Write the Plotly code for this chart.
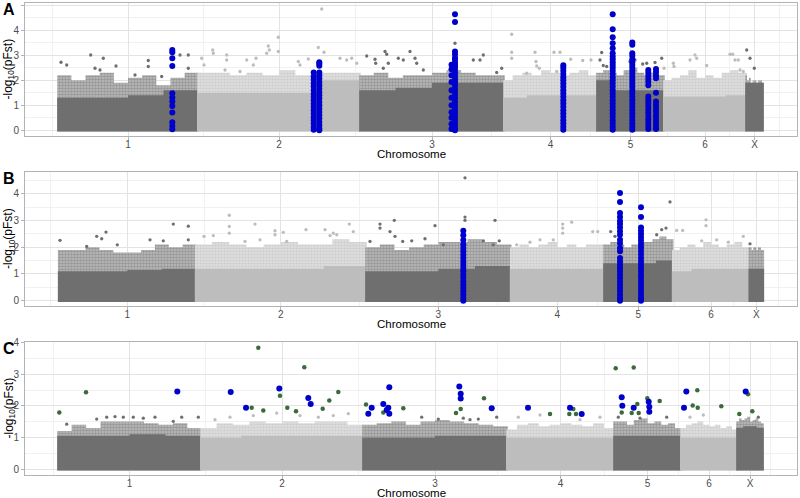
import numpy as np
import plotly.graph_objects as go

W, H = 800, 498
chrom_names = ["1", "2", "3", "4", "5", "6", "X"]
dark_grey = "#6f6f6f"
light_grey = "#bdbdbd"
blue = "#0000cc"
green = "#3a6b3a"

# ---------------- panel A ----------------
A_bounds = [0, 140, 302, 446, 539, 606, 688, 705]
A_solid = [[1.3, 1.3, 1.4, 1.6], [1.5, 1.5, 1.5, 2.0], [1.6, 1.7, 1.9, 1.9],
           [1.3, 1.4, 1.4, 1.4], [2.0, 1.6, 1.6, 1.6], [1.35, 1.35, 1.35, 1.4],
           [1.9, 1.9, 1.9, 1.9]]
A_top = [[2.2, 2.0, 2.2, 2.3, 1.9, 2.1, 2.2, 1.8, 2.1, 2.3],
         [2.3, 2.3, 2.2, 2.3, 2.2, 2.4, 2.2, 2.3, 2.3, 2.3],
         [2.2, 2.3, 2.1, 2.2, 2.2, 2.3, 2.4, 2.3, 2.2, 2.2],
         [2.0, 2.2, 2.3, 2.2, 2.4, 2.3, 2.2, 2.3, 2.4, 2.2],
         [2.3, 2.4, 2.3, 2.2, 2.4, 2.5, 2.3, 2.2, 2.3, 2.2],
         [2.0, 2.1, 2.2, 2.4, 2.1, 2.2, 2.1, 2.3, 2.4, 2.3],
         [2.2, 2.0, 2.1, 1.9, 2.0, 2.0, 1.9, 2.0, 2.0, 1.9]]
A_out_x = [3, 8.7, 32.7, 37, 42, 45.3, 58, 77, 90.3, 90.3, 103.7, 122, 130.3, 130.3,
           143.7, 146, 154.7, 155.3, 167, 168.7, 168.7, 182, 188.7, 195.3, 198, 210.3,
           211.3, 208.7, 220.3, 220.3, 240.3, 242, 250.3, 260.3, 263.7, 266, 282, 288.7,
           293.7, 298.7,
           308.7, 317, 317.7, 325.3, 327, 328.7, 330.3, 340.3, 345.3, 352, 357, 358.7,
           365.3, 397, 415.3, 422, 425.3, 438.7, 443.7,
           453.7, 453.7, 453.7, 468.7, 477, 478, 478.7, 481.3, 496, 498.7, 502, 512.7,
           524.7, 533,
           542, 543.7, 545.3, 548.7, 572, 577, 584.7, 588.7, 597, 603.7, 606,
           615.3, 616, 632, 637, 638.7, 648.7, 672, 674.7, 677, 680.3, 682, 685.3,
           688.7, 692, 696.3]
A_out_y = [2.72, 2.61, 3.01, 2.48, 2.41, 2.88, 2.57, 2.21, 2.79, 2.55, 2.15, 3.01, 3.01, 2.48,
           2.88, 2.61, 3.21, 3.08, 2.41, 3.01, 2.81, 2.35, 2.81, 2.61, 2.88, 3.37,
           3.21, 3.08, 3.72, 3.15, 2.75, 2.61, 2.85, 3.31, 4.85, 3.12, 2.88, 2.81,
           2.88, 2.68,
           2.97, 2.84, 2.68, 2.48, 3.15, 3.04, 2.68, 2.88, 2.81, 3.15, 2.88, 2.68,
           2.41, 3.48, 2.81, 2.81, 3.01, 2.31, 2.48,
           3.84, 3.12, 2.88, 2.28, 3.12, 2.75, 2.57, 2.48, 3.12, 2.35, 3.12, 2.84,
           2.79, 2.81,
           2.81, 3.11, 2.59, 2.55, 2.75, 2.81, 2.65, 2.68, 2.71, 2.88, 2.48,
           2.68, 2.55, 2.81, 3.01, 2.88, 2.59, 3.04, 3.04, 2.81, 2.81, 2.41, 2.35,
           3.21, 2.88, 2.48]
A_blue_x = [114.3, 255.7, 261.3, 393.5, 397, 505.3, 554.7, 574.3, 590.3, 598]
A_blue_y = [
    [3.21, 3.12, 2.88, 2.57, 1.48, 1.31, 1.15, 0.97, 0.71, 0.32, 0.17, 0.04],
    [2.31, 2.15, 2.02, 1.88, 1.75, 1.6, 1.45, 1.33, 1.2, 1.06, 0.93, 0.8, 0.66, 0.52,
     0.4, 0.27, 0.13, 0.02],
    [2.72, 2.66, 2.58, 2.31, 2.2, 2.07, 1.93, 1.8, 1.66, 1.52, 1.4, 1.27, 1.13, 1.0,
     0.86, 0.73, 0.6, 0.47, 0.33, 0.2, 0.07, 0.0],
    [2.62, 2.44, 2.2, 1.93, 1.6, 1.3, 1.0, 0.72, 0.5, 0.25, 0.05],
    [4.64, 4.33, 3.15, 3.04, 2.9, 2.84, 2.72, 2.62, 2.55, 2.44, 2.31, 2.18, 2.05, 1.93,
     1.8, 1.66, 1.53, 1.4, 1.27, 1.13, 1.0, 0.87, 0.73, 0.6, 0.47, 0.33, 0.2, 0.07, 0.0],
    [2.6, 2.5, 2.38, 2.25, 2.12, 2.0, 1.87, 1.74, 1.6, 1.47, 1.34, 1.2, 1.07, 0.94,
     0.8, 0.67, 0.54, 0.4, 0.27, 0.14, 0.02],
    [4.64, 4.04, 3.72, 3.48, 3.28, 3.08, 2.95, 2.84, 2.72, 2.61, 2.5, 2.38, 2.25, 2.12,
     2.0, 1.87, 1.74, 1.6, 1.47, 1.34, 1.2, 1.07, 0.94, 0.8, 0.67, 0.54, 0.4, 0.27,
     0.14, 0.02],
    [3.51, 3.42, 3.08, 2.98, 2.84, 2.72, 2.61, 2.5, 2.38, 2.25, 2.12, 2.0, 1.87, 1.74,
     1.6, 1.47, 1.34, 1.2, 1.07, 0.94, 0.8, 0.67, 0.54, 0.4, 0.27, 0.14, 0.02],
    [2.41, 2.3, 2.18, 2.05, 1.93, 1.8, 1.35, 1.22, 1.1, 0.97, 0.84, 0.7, 0.57, 0.44,
     0.3, 0.17, 0.05],
    [2.45, 2.33, 2.2, 2.08, 1.5, 1.15, 1.02, 0.9, 0.76, 0.62, 0.5, 0.37, 0.24, 0.12,
     0.05]]

# ---------------- panel B ----------------
B_bounds = [0, 137, 307.3, 452, 545.3, 614, 690.6, 704.6]
B_solid = [[1.1, 1.1, 1.15, 1.2], [1.2, 1.2, 1.2, 1.3], [1.1, 1.1, 1.2, 1.3],
           [1.2, 1.2, 1.2, 1.2], [1.4, 1.4, 1.4, 1.5], [1.1, 1.2, 1.2, 1.2],
           [1.2, 1.2, 1.2, 1.2]]
B_top = [[1.9, 1.9, 2.0, 1.9, 1.8, 1.8, 1.9, 2.1, 2.0, 2.1],
         [2.1, 2.2, 2.1, 2.0, 2.1, 2.2, 2.1, 2.1, 2.3, 2.2],
         [2.0, 2.1, 1.9, 2.0, 2.1, 2.2, 2.2, 2.3, 2.2, 2.1],
         [2.0, 2.1, 2.0, 2.1, 2.2, 2.0, 2.1, 2.0, 2.1, 2.1],
         [2.1, 2.2, 2.1, 2.0, 2.1, 2.2, 2.2, 2.3, 2.4, 2.3],
         [1.9, 2.0, 2.1, 2.0, 2.2, 2.1, 2.0, 2.1, 2.2, 2.0],
         [2.0, 2.0, 1.9, 2.0, 2.0, 1.9, 2.0, 2.0, 1.9, 1.9]]
B_out_x = [1.3, 28, 38, 43, 47.3, 58.6, 91.3, 104.6, 114.6, 129.6, 129.6,
           145.3, 154.6, 170.6, 170.6, 170.6, 186.3, 196.3, 201.3, 216.3, 216.3, 224.6,
           228, 247.3, 266.3, 271.3, 274.6, 278, 290.6, 294.6,
           311.3, 321.3, 321.3, 331.3, 335.6, 336.3, 344, 353, 366.3, 376.3, 384.6,
           406.3, 406.3, 406.3, 424.6, 434.6, 436.3, 440.6,
           458, 471.3, 481.3, 494.6, 504, 504, 504, 513, 534, 539,
           552, 556.3, 598, 603, 607.3, 611.3,
           618, 624, 643, 647.3, 647.3, 658, 669.6, 684.6, 691.3]
B_out_y = [2.26, 2.03, 2.41, 2.32, 2.57, 2.09, 2.28, 2.24, 2.87, 2.79, 2.28,
           2.41, 2.44, 3.2, 2.78, 2.53, 2.22, 2.87, 2.28, 2.62, 2.47, 2.56,
           2.22, 2.66, 2.66, 2.44, 2.53, 2.47, 2.87, 2.59,
           2.22, 2.87, 2.72, 2.59, 3.01, 2.41, 2.22, 2.24, 2.32, 2.81, 2.09,
           4.6, 3.13, 3.01, 2.24, 2.09, 3.01, 2.24,
           2.09, 2.19, 2.28, 2.28, 2.87, 2.72, 2.53, 2.94, 2.59, 2.59,
           2.59, 2.41, 2.47, 2.66, 2.72, 3.7,
           2.63, 2.63, 2.24, 3.03, 2.81, 2.28, 2.19, 2.41, 2.13]
B_blue_x = [404.6, 561.3, 582.3]
B_blue_y = [
    [2.62, 2.45, 2.27, 2.1, 1.97, 1.85, 1.72, 1.6, 1.47, 1.35, 1.22, 1.1, 0.97, 0.85,
     0.72, 0.6, 0.47, 0.35, 0.22, 0.1, 0.0],
    [4.03, 3.7, 3.28, 3.13, 2.98, 2.87, 2.74, 2.6, 2.47, 2.28, 2.15, 1.97, 1.85, 1.6,
     1.47, 1.35, 1.22, 1.1, 0.97, 0.85, 0.72, 0.6, 0.47, 0.35, 0.22, 0.1, 0.0],
    [3.5, 3.13, 2.74, 2.62, 2.5, 2.38, 2.25, 2.12, 2.0, 1.87, 1.74, 1.6, 1.47, 1.35,
     1.22, 1.1, 0.97, 0.85, 0.72, 0.6, 0.47, 0.35, 0.22, 0.1, 0.0]]

# ---------------- panel C ----------------
C_bounds = [0, 143, 305, 449, 556, 623, 679, 705]
C_solid = [[1.05, 1.05, 1.1, 1.05], [1.0, 1.05, 1.05, 1.05], [1.0, 1.0, 1.05, 1.05],
           [1.0, 1.0, 1.0, 1.0], [1.05, 1.05, 1.05, 1.05], [1.0, 1.0, 1.0, 1.0],
           [1.3, 1.35, 1.35, 1.3]]
C_top = [[1.2, 1.4, 1.3, 1.5, 1.5, 1.5, 1.45, 1.4, 1.45, 1.3],
         [1.3, 1.45, 1.4, 1.5, 1.45, 1.5, 1.45, 1.5, 1.5, 1.4],
         [1.4, 1.45, 1.5, 1.4, 1.5, 1.55, 1.5, 1.45, 1.4, 1.35],
         [1.25, 1.4, 1.45, 1.35, 1.4, 1.45, 1.4, 1.35, 1.45, 1.3],
         [1.5, 1.5, 1.4, 1.55, 1.6, 1.45, 1.5, 1.4, 1.45, 1.3],
         [1.3, 1.4, 1.45, 1.5, 1.4, 1.35, 1.4, 1.3, 1.35, 1.25],
         [1.5, 1.6, 1.55, 1.6, 1.65, 1.5, 1.55, 1.6, 1.5, 1.45]]
C_out_x = [8.7, 38.7, 48.7, 57, 65.3, 75.3, 85.3, 97, 115.3, 123.7, 140.3,
           157, 172, 195.3, 218.7, 242, 260.3, 275.3, 290.3,
           363.7, 380.3, 405.3, 412, 420.3, 438.7, 460.3, 482, 522, 542,
           560.3, 582, 608.7, 632, 645.3, 700.3]
C_out_y = [1.42, 1.58, 1.64, 1.66, 1.64, 1.64, 1.61, 1.64, 1.51, 1.64, 1.64,
           1.56, 1.64, 1.69, 1.77, 1.69, 1.64, 1.69, 1.75,
           1.64, 1.58, 1.61, 1.56, 1.58, 1.64, 1.64, 1.71, 1.56, 1.64,
           1.64, 1.61, 1.64, 1.64, 1.71, 1.64]
C_green_x = [1.3, 28, 200.3, 246.3, 222, 193.7, 205.3, 229.3, 238, 264.7, 271.3, 280.3,
             308, 325.3, 345.3, 398, 402.7, 426, 492, 511.3, 515.3, 518,
             557.7, 575.7, 563.7, 573.7, 579.3, 580.7, 589.3, 601.7,
             639.3, 634.7, 639.7, 663.3, 690, 681.3, 694.3]
C_green_y = [1.79, 2.43, 3.84, 3.22, 2.32, 1.94, 1.85, 1.94, 1.83, 1.91, 2.17, 2.44,
             2.04, 1.79, 1.92, 1.77, 1.9, 2.24, 1.74, 1.74, 1.9, 1.74,
             3.19, 3.21, 1.79, 1.77, 2.06, 1.77, 2.24, 2.15,
             2.49, 2.01, 1.94, 1.99, 2.37, 1.74, 1.83]
C_blue_x = [119.3, 172.7, 188, 221.3, 250.3, 252.7,
            313.7, 310.3, 325.3, 331.3, 328.7, 330.3, 331.3, 401.3, 402.7, 402.7, 433.7,
            470, 512, 523.7, 563.7, 564.3, 575.7, 590.7, 591.3, 591.3,
            628.3, 626, 687.7]
C_blue_y = [2.45, 2.44, 1.94, 2.55, 2.25, 2.06,
            1.94, 1.75, 2.06, 2.59, 1.87, 1.94, 1.75, 2.61, 2.38, 2.23, 1.92,
            1.94, 1.94, 1.74, 2.27, 2.0, 1.94, 2.13, 1.97, 1.81,
            2.45, 1.94, 2.45]

panels = [
    dict(bounds=A_bounds, solid=A_solid, top=A_top, ox=A_out_x, oy=A_out_y,
         bx=A_blue_x, by=A_blue_y, xr=[-33, 739], yr=[-0.23, 5.09], yt=[0, 1, 2, 3, 4, 5],
         px=(3, 136), letter="A"),
    dict(bounds=B_bounds, solid=B_solid, top=B_top, ox=B_out_x, oy=B_out_y,
         bx=B_blue_x, by=B_blue_y, xr=[-33.7, 738.3], yr=[-0.2, 4.82], yt=[0, 1, 2, 3, 4],
         px=(172, 306), letter="B"),
    dict(bounds=C_bounds, solid=C_solid, top=C_top, ox=C_out_x, oy=C_out_y,
         bx=None, by=None, xr=[-33, 739], yr=[-0.19, 4.02], yt=[0, 1, 2, 3, 4],
         px=(342, 475), letter="C"),
]


def step_poly(x0, x1, vals, base=-0.05):
    edges = np.linspace(x0, x1, len(vals) + 1)
    xs, ys = [x0], [base]
    for i, v in enumerate(vals):
        xs += [edges[i], edges[i + 1]]
        ys += [v, v]
    xs += [x1, x0]
    ys += [base, base]
    return xs, ys


def tint(h, a):
    # mix a hex colour with white
    h = h.lstrip("#")
    c = [int(h[j:j + 2], 16) for j in (0, 2, 4)]
    return "rgb(%d,%d,%d)" % tuple(round(255 - (255 - v) * a) for v in c)


fig = go.Figure()
layout = {}
annotations = []
font = "Liberation Sans, Arial"

for k, p in enumerate(panels):
    n = "" if k == 0 else str(k + 1)
    xa, ya = "x" + n, "y" + n
    b = p["bounds"]
    cols = [dark_grey if i % 2 == 0 else light_grey for i in range(7)]

    for i in range(7):
        x0, x1 = b[i] - 0.8, b[i + 1] + 0.8
        # speckled upper zone of the SNP cloud
        fx, fy = step_poly(x0, x1, p["top"][i])
        fig.add_trace(go.Scatter(x=fx, y=fy, fill="toself", mode="lines", line_width=0,
                                 fillcolor=tint(cols[i], 0.45),
                                 fillpattern=dict(shape=".", fgcolor=cols[i],
                                                  bgcolor=tint(cols[i], 0.45),
                                                  size=3, solidity=0.6),
                                 xaxis=xa, yaxis=ya, hoverinfo="skip", showlegend=False))
        # dense body of the cloud
        sx, sy = step_poly(x0, x1, p["solid"][i])
        fig.add_trace(go.Scatter(x=sx, y=sy, fill="toself", mode="lines", line_width=0,
                                 fillcolor=cols[i], xaxis=xa, yaxis=ya,
                                 hoverinfo="skip", showlegend=False))

    idx = np.clip(np.searchsorted(b, p["ox"], side="right") - 1, 0, 6)
    fig.add_trace(go.Scatter(x=p["ox"], y=p["oy"], mode="markers",
                             marker=dict(size=3.3, color=[cols[j] for j in idx]),
                             xaxis=xa, yaxis=ya, showlegend=False))

    if p["bx"] is not None:
        bxs, bys = [], []
        for cx, cy in zip(p["bx"], p["by"]):
            bxs += [cx] * len(cy)
            bys += cy
        fig.add_trace(go.Scatter(x=bxs, y=bys, mode="markers",
                                 marker=dict(size=6, color=blue),
                                 xaxis=xa, yaxis=ya, showlegend=False))
    else:
        fig.add_trace(go.Scatter(x=C_green_x, y=C_green_y, mode="markers",
                                 marker=dict(size=4.5, color=green),
                                 xaxis=xa, yaxis=ya, showlegend=False))
        fig.add_trace(go.Scatter(x=C_blue_x, y=C_blue_y, mode="markers",
                                 marker=dict(size=6, color=blue),
                                 xaxis=xa, yaxis=ya, showlegend=False))

    mids = [(b[i] + b[i + 1]) / 2 for i in range(7)]
    minors = [(mids[i] + mids[i + 1]) / 2 for i in range(6)]
    minors = [mids[0] - (mids[1] - mids[0]) / 2] + minors + [mids[-1] + (mids[-1] - mids[-2]) / 2]
    minors = [m for m in minors if p["xr"][0] < m < p["xr"][1]]
    ymin = [t + 0.5 for t in p["yt"] if t + 0.5 < p["yr"][1]]

    top_px, bot_px = p["px"]
    common = dict(showline=True, mirror=True, linecolor="#b3b3b3", linewidth=1,
                  ticks="outside", ticklen=3, tickcolor="#b3b3b3", zeroline=False,
                  showgrid=True, gridcolor="#e3e3e3", gridwidth=0.7, automargin=False,
                  tickfont=dict(family=font, size=10, color="#4d4d4d"))
    layout["xaxis" + n] = dict(common, domain=[25 / W, 797 / W], range=p["xr"],
                               tickmode="array", tickvals=mids, ticktext=chrom_names,
                               anchor=ya, ticklabelstandoff=-4,
                               minor=dict(tickvals=minors, showgrid=True,
                                          gridcolor="#f1f1f1", gridwidth=0.5, ticks=""))
    layout["yaxis" + n] = dict(common, domain=[1 - bot_px / H, 1 - top_px / H],
                               range=p["yr"], tickmode="array", tickvals=p["yt"],
                               anchor=xa,
                               minor=dict(tickvals=ymin, showgrid=True,
                                          gridcolor="#f1f1f1", gridwidth=0.5, ticks=""))

    annotations.append(dict(text="<b>%s</b>" % p["letter"], x=8.5 / W, y=1 - (top_px + 6) / H,
                            xref="paper", yref="paper", showarrow=False,
                            xanchor="center", yanchor="middle",
                            font=dict(family=font, size=16, color="black")))
    annotations.append(dict(text="-log<sub>10</sub>(pFst)", x=9 / W,
                            y=1 - (top_px + bot_px) / 2 / H, xref="paper", yref="paper",
                            textangle=-90, showarrow=False,
                            xanchor="center", yanchor="middle",
                            font=dict(family=font, size=12, color="black")))
    annotations.append(dict(text="Chromosome", x=411 / W, y=1 - (bot_px + 17.5) / H,
                            xref="paper", yref="paper", showarrow=False,
                            xanchor="center", yanchor="middle",
                            font=dict(family=font, size=11.5, color="black")))

fig.update_layout(**layout)
fig.update_layout(width=W, height=H, margin=dict(l=0, r=0, t=0, b=0),
                  paper_bgcolor="white", plot_bgcolor="white", annotations=annotations,
                  showlegend=False)
# the page body has a default 8px margin; remove it so the figure fills the window
fig.write_html("out.html", config={"displayModeBar": False},
               post_script="document.body.style.margin='0';")
